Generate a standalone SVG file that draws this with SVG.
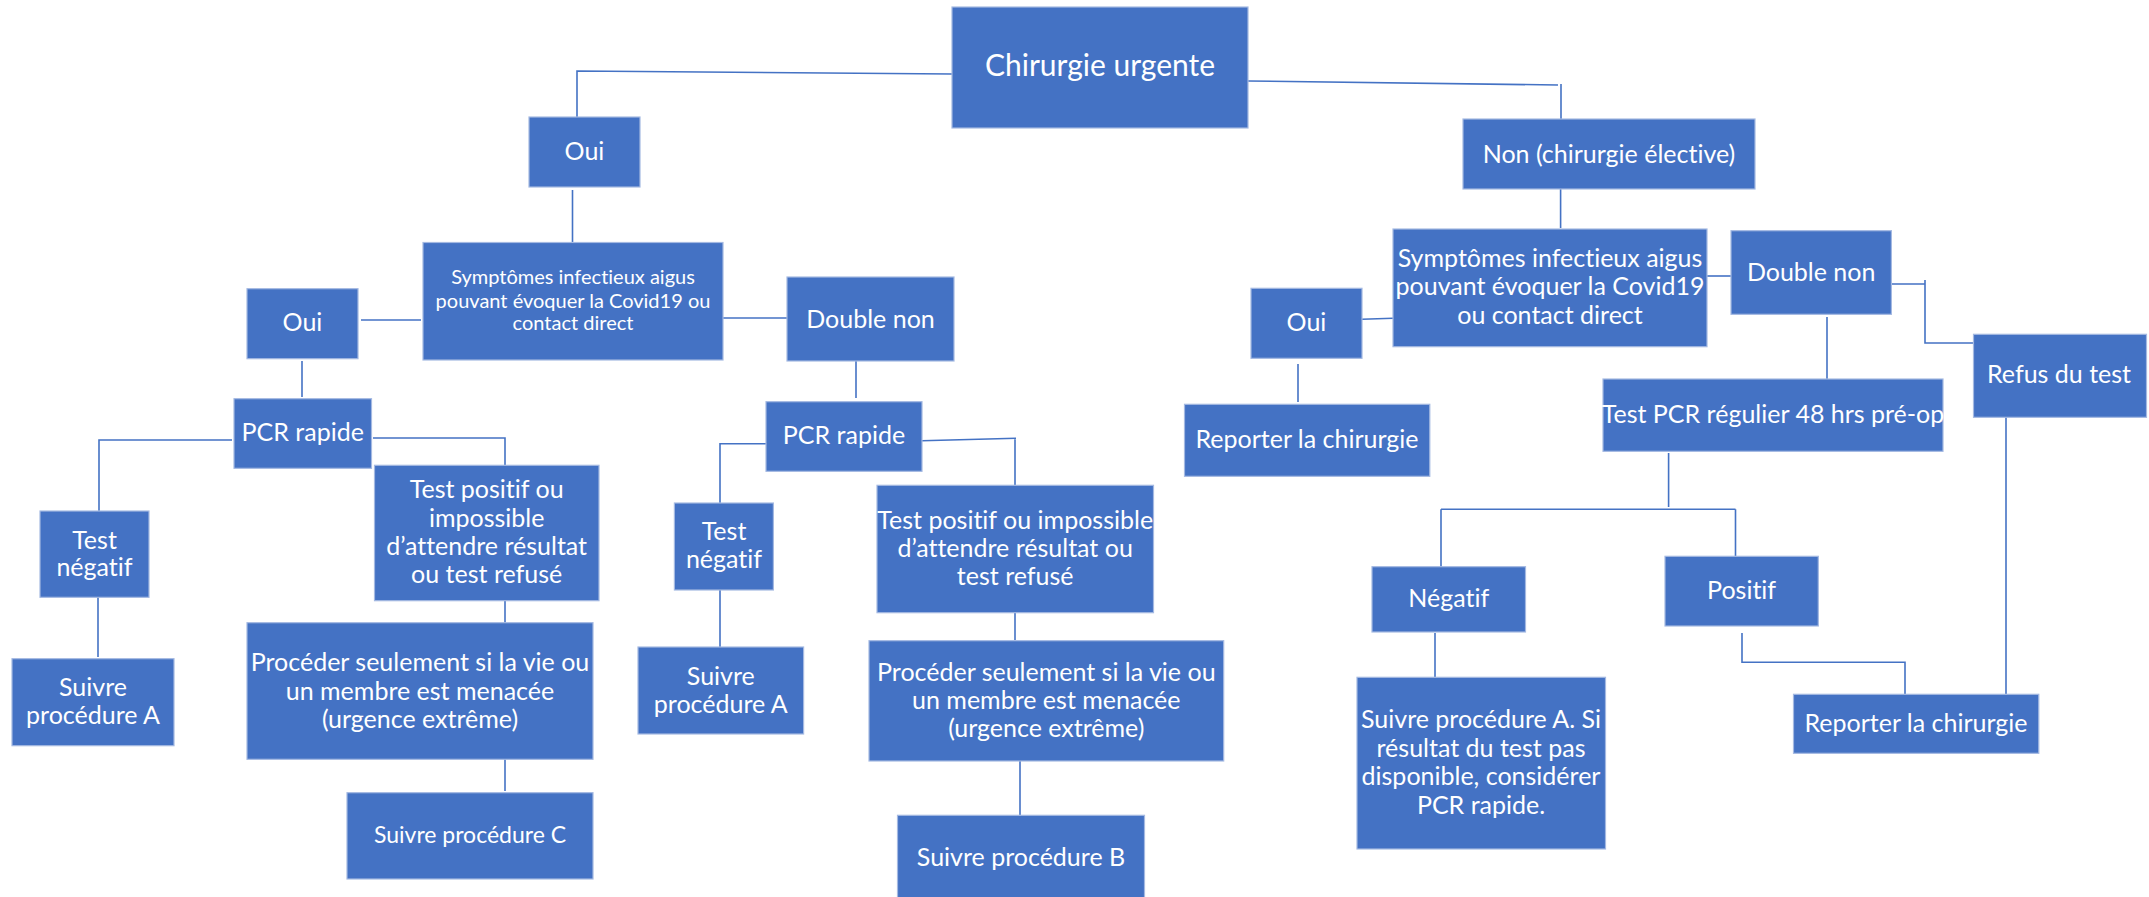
<svg xmlns="http://www.w3.org/2000/svg" width="2149" height="897" viewBox="0 0 2149 897">
<style>
.box{fill:#4472C4;stroke:#A4B9E2;stroke-width:1.2}
.t{font-family:Lato,"Liberation Sans",sans-serif;fill:#FFFFFF;text-anchor:middle;font-size:25px;font-variant-ligatures:none}
.s{font-size:20px}
.c{font-size:23px}
.big{font-size:30px}
.conn{stroke:#4472C4;stroke-width:1.6;fill:none}
</style>
<rect width="2149" height="897" fill="#FFFFFF"/>
<g id="connectors">
<path class="conn" d="M952 74 L577 71 L577 117"/>
<path class="conn" d="M1248 81 L1558 85 M1561 84 L1561 119"/>
<path class="conn" d="M572.5 190 L572.5 242.5"/>
<path class="conn" d="M361 320 L421 320"/>
<path class="conn" d="M723 318 L787 318"/>
<path class="conn" d="M302 361 L302 397"/>
<path class="conn" d="M232 440 L99 440 L99 511"/>
<path class="conn" d="M373 438 L505 438 L505 465"/>
<path class="conn" d="M98 597 L98 657"/>
<path class="conn" d="M505 601 L505 623"/>
<path class="conn" d="M505 759 L505 791"/>
<path class="conn" d="M856 361 L856 398"/>
<path class="conn" d="M766 443.7 L720 443.7 L720 503"/>
<path class="conn" d="M922 440.7 L1016 438.3 M1015 438 L1015 485"/>
<path class="conn" d="M720 590 L720 647"/>
<path class="conn" d="M1015 613 L1015 640"/>
<path class="conn" d="M1020 761 L1020 815"/>
<path class="conn" d="M1560.6 189 L1560.6 228"/>
<path class="conn" d="M1362 319.3 L1393 318.3"/>
<path class="conn" d="M1298 364 L1298 402"/>
<path class="conn" d="M1707 276 L1731 276"/>
<path class="conn" d="M1891 284 L1925 284 M1925 280 L1925 343 L1974 343"/>
<path class="conn" d="M1827 317 L1827 379"/>
<path class="conn" d="M2006 417 L2006 694"/>
<path class="conn" d="M1668.6 453 L1668.6 507 M1441 509.3 L1735.5 509.3 M1441 509.3 L1441 567 M1735.5 509.3 L1735.5 556"/>
<path class="conn" d="M1435 633 L1435 677"/>
<path class="conn" d="M1742 633 L1742 662.3 L1905 662.3 L1905 694"/>
</g>
<g id="n-chirurgie"><rect class="box" x="952" y="7" width="296" height="121"/><text class="t big" x="1100" y="76">Chirurgie urgente</text></g>
<g id="n-oui-urg"><rect class="box" x="529" y="117" width="111" height="70"/><text class="t" x="584.5" y="160">Oui</text></g>
<g id="n-non-elective"><rect class="box" x="1463" y="119" width="292" height="70"/><text class="t" x="1609" y="163">Non (chirurgie élective)</text></g>
<g id="n-sympt-urg"><rect class="box" x="423" y="242.5" width="300" height="117.5"/><text class="t s" x="573" y="284.3">Symptômes infectieux aigus</text><text class="t s" x="573" y="307.7">pouvant évoquer la Covid19 ou</text><text class="t s" x="573" y="330">contact direct</text></g>
<g id="n-oui-urg-2"><rect class="box" x="247" y="288.7" width="111" height="70"/><text class="t" x="302.5" y="331">Oui</text></g>
<g id="n-double-non-urg"><rect class="box" x="787" y="277" width="167" height="84"/><text class="t" x="870.5" y="328">Double non</text></g>
<g id="n-pcr-oui"><rect class="box" x="234" y="398.7" width="137.5" height="69.6"/><text class="t" x="302.7" y="441">PCR rapide</text></g>
<g id="n-test-neg-1"><rect class="box" x="40" y="511" width="109" height="86.3"/><text class="t" x="94.5" y="548.5">Test</text><text class="t" x="94.5" y="576">négatif</text></g>
<g id="n-suivre-a-1"><rect class="box" x="12" y="658.7" width="162" height="87"/><text class="t" x="93" y="696">Suivre</text><text class="t" x="93" y="724">procédure A</text></g>
<g id="n-test-pos-1"><rect class="box" x="374.5" y="465.3" width="224.5" height="135.4"/><text class="t" x="486.7" y="497.7">Test positif ou</text><text class="t" x="486.7" y="526.5">impossible</text><text class="t" x="486.7" y="555">d’attendre résultat</text><text class="t" x="486.7" y="583.3">ou test refusé</text></g>
<g id="n-proceder-1"><rect class="box" x="247" y="622.7" width="346" height="136.6"/><text class="t" x="420" y="671">Procéder seulement si la vie ou</text><text class="t" x="420" y="699.5">un membre est menacée</text><text class="t" x="420" y="728">(urgence extrême)</text></g>
<g id="n-suivre-c"><rect class="box" x="347" y="792.7" width="246" height="86.3"/><text class="t c" x="470" y="843">Suivre procédure C</text></g>
<g id="n-pcr-dn"><rect class="box" x="766" y="401.7" width="156" height="69.6"/><text class="t" x="844" y="444">PCR rapide</text></g>
<g id="n-test-neg-2"><rect class="box" x="674.4" y="503" width="99" height="87"/><text class="t" x="724" y="540">Test</text><text class="t" x="724" y="567.5">négatif</text></g>
<g id="n-suivre-a-2"><rect class="box" x="638" y="647" width="165.6" height="87"/><text class="t" x="720.8" y="684.5">Suivre</text><text class="t" x="720.8" y="713">procédure A</text></g>
<g id="n-test-pos-2"><rect class="box" x="877" y="485.3" width="276.5" height="127.4"/><text class="t" x="1015.2" y="528.5">Test positif ou impossible</text><text class="t" x="1015.2" y="557">d’attendre résultat ou</text><text class="t" x="1015.2" y="585">test refusé</text></g>
<g id="n-proceder-2"><rect class="box" x="869" y="640.7" width="354.7" height="120.3"/><text class="t" x="1046.3" y="681">Procéder seulement si la vie ou</text><text class="t" x="1046.3" y="709">un membre est menacée</text><text class="t" x="1046.3" y="737">(urgence extrême)</text></g>
<g id="n-suivre-b"><rect class="box" x="897.5" y="815.3" width="247" height="84"/><text class="t" x="1021" y="866">Suivre procédure B</text></g>
<g id="n-sympt-el"><rect class="box" x="1393" y="229" width="314" height="117.7"/><text class="t" x="1550" y="266.5">Symptômes infectieux aigus</text><text class="t" x="1550" y="295">pouvant évoquer la Covid19</text><text class="t" x="1550" y="323.5">ou contact direct</text></g>
<g id="n-oui-el"><rect class="box" x="1251" y="288.3" width="111" height="70"/><text class="t" x="1306.5" y="331">Oui</text></g>
<g id="n-reporter-1"><rect class="box" x="1184.5" y="404.3" width="245.3" height="72"/><text class="t" x="1307" y="448">Reporter la chirurgie</text></g>
<g id="n-double-non-el"><rect class="box" x="1731" y="230.7" width="160.4" height="83.6"/><text class="t" x="1811.2" y="281">Double non</text></g>
<g id="n-refus"><rect class="box" x="1973.5" y="334.3" width="173" height="83"/><text class="t" x="2059" y="383.3">Refus du test</text></g>
<g id="n-pcr-reg"><rect class="box" x="1603" y="379" width="340" height="72.3"/><text class="t" x="1773" y="423" font-size="24.5">Test PCR régulier 48 hrs pré-op</text></g>
<g id="n-negatif"><rect class="box" x="1372" y="566.7" width="153.5" height="65.3"/><text class="t" x="1448.7" y="606.7">Négatif</text></g>
<g id="n-suivre-a-3"><rect class="box" x="1357" y="677.3" width="248.5" height="171.7"/><text class="t" x="1481" y="728">Suivre procédure A. Si</text><text class="t" x="1481" y="756.5">résultat du test pas</text><text class="t" x="1481" y="785">disponible, considérer</text><text class="t" x="1481" y="813.5">PCR rapide.</text></g>
<g id="n-positif"><rect class="box" x="1665" y="556.3" width="153.3" height="69.7"/><text class="t" x="1741.6" y="599">Positif</text></g>
<g id="n-reporter-2"><rect class="box" x="1793.5" y="694.3" width="245.3" height="59"/><text class="t" x="1916" y="731.7">Reporter la chirurgie</text></g>
</svg>
